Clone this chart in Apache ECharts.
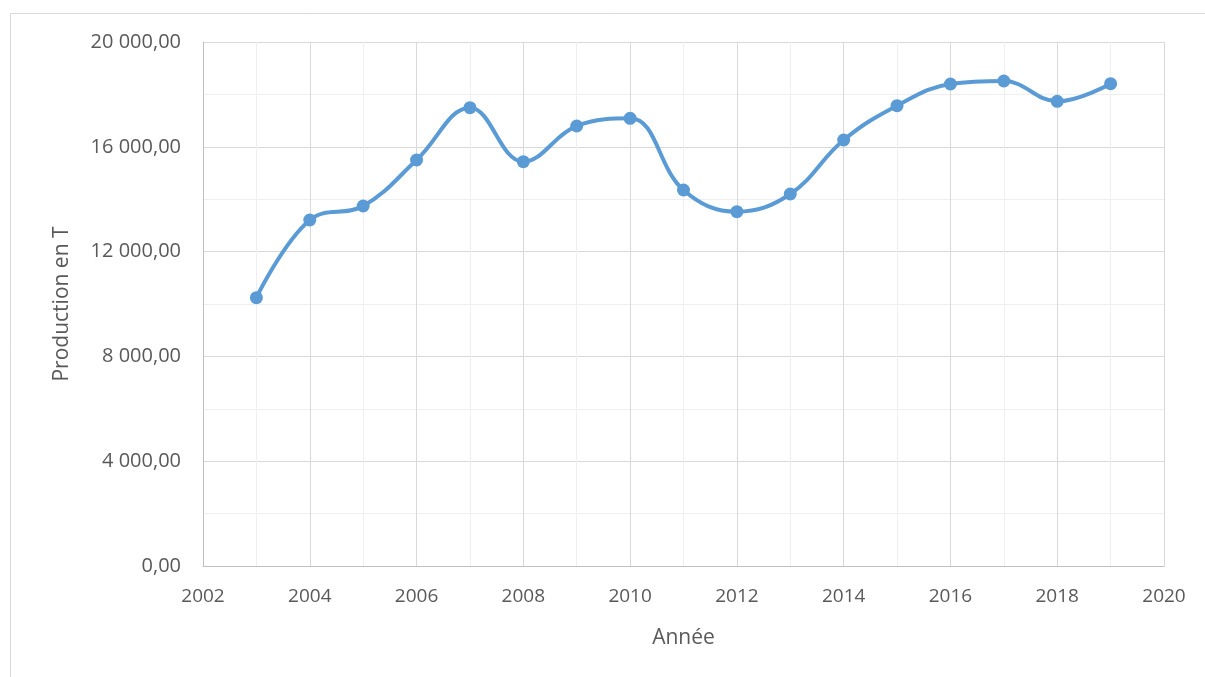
<!DOCTYPE html>
<html>
<head>
<meta charset="utf-8">
<script src="https://cdn.jsdelivr.net/npm/echarts@6/dist/echarts.min.js"></script>
<style>
  html, body { margin: 0; padding: 0; background: #fff; }
  #chart { width: 1205px; height: 677px; }
</style>
</head>
<body>
<div id="chart"></div>
<script>
// Annual production (tonnes)
const years = [2003, 2004, 2005, 2006, 2007, 2008, 2009, 2010, 2011, 2012, 2013, 2014, 2015, 2016, 2017, 2018, 2019];
const production = [10240, 13206, 13740, 15496, 17493, 15431, 16794, 17087, 14351, 13524, 14198, 16260, 17569, 18397, 18511, 17735, 18408];

const xAxisName = 'Année';
const yAxisName = 'Production en T';

// French number style: space as thousands separator, comma decimals
function frNumber(v) {
  const parts = v.toFixed(2).split('.');
  const intPart = parts[0].replace(/\B(?=(\d{3})+(?!\d))/g, ' ');
  return intPart + ',' + parts[1];
}

const textColor = '#595959';
const font = 'Open Sans';

const chart = echarts.init(document.getElementById('chart'), null, { renderer: 'canvas' });
chart.setOption({
  animation: false,
  backgroundColor: '#ffffff',
  graphic: [{
    type: 'rect',
    shape: { x: 10.5, y: 13.5, width: 1210, height: 680 },
    style: { fill: 'none', stroke: '#d9d9d9', lineWidth: 1 },
    silent: true
  }],
  grid: { left: 203, top: 42, right: 41, bottom: 111 },
  xAxis: {
    type: 'value',
    min: 2002,
    max: 2020,
    interval: 2,
    name: xAxisName,
    nameLocation: 'middle',
    nameGap: 62,
    nameTextStyle: { color: textColor, fontSize: 21, fontFamily: font },
    axisLine: { show: true, lineStyle: { color: '#bfbfbf', width: 1 } },
    axisTick: { show: false },
    axisLabel: { color: textColor, fontSize: 19, fontFamily: font, margin: 21, formatter: v => String(v) },
    splitLine: { show: true, lineStyle: { color: '#d9d9d9', width: 1 } },
    minorTick: { show: false, splitNumber: 2 },
    minorSplitLine: { show: true, lineStyle: { color: '#efefef', width: 1 } }
  },
  yAxis: {
    type: 'value',
    min: 0,
    max: 20000,
    interval: 4000,
    name: yAxisName,
    nameLocation: 'middle',
    nameGap: 130,
    nameRotate: 90,
    nameTextStyle: { color: textColor, fontSize: 21, fontFamily: font },
    axisLine: { show: true, lineStyle: { color: '#bfbfbf', width: 1 } },
    axisTick: { show: false },
    axisLabel: { color: textColor, fontSize: 20, fontFamily: font, margin: 22, formatter: frNumber },
    splitLine: { show: true, lineStyle: { color: '#d9d9d9', width: 1 } },
    minorTick: { show: false, splitNumber: 2 },
    minorSplitLine: { show: true, lineStyle: { color: '#efefef', width: 1 } }
  },
  series: [{
    type: 'line',
    data: years.map((y, i) => [y, production[i]]),
    smooth: 0.4,
    symbol: 'circle',
    symbolSize: 13,
    itemStyle: { color: '#5b9bd5' },
    lineStyle: { color: '#5b9bd5', width: 4 }
  }]
});
</script>
</body>
</html>
